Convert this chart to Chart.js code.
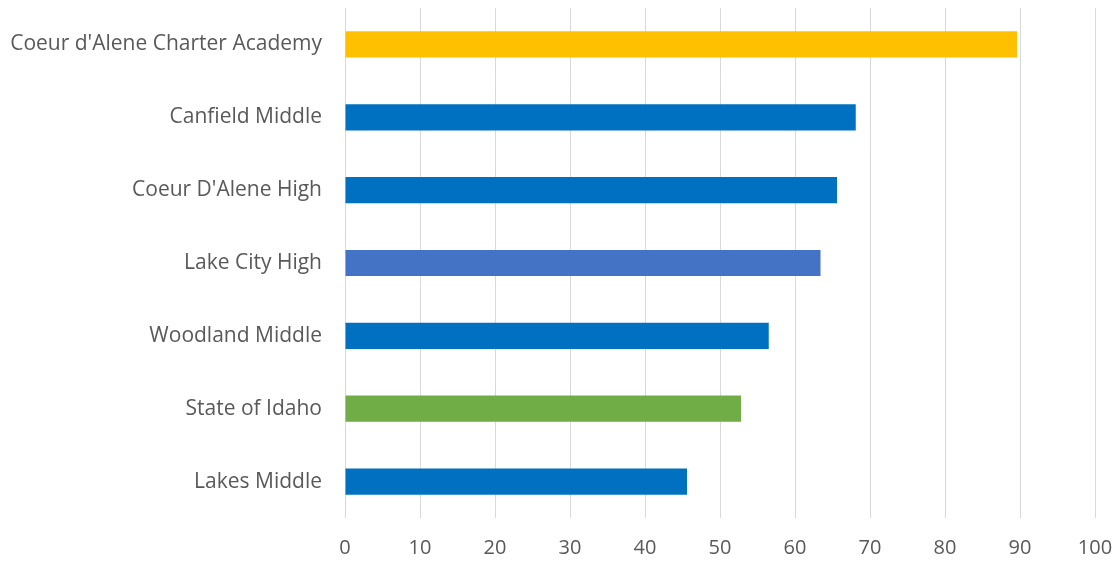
<!DOCTYPE html>
<html>
<head>
<meta charset="utf-8">
<script src="https://cdn.jsdelivr.net/npm/chart.js@4"></script>
<style>
  html, body { margin: 0; padding: 0; background: #ffffff; }
  #wrap { width: 1120px; height: 565px; }
</style>
</head>
<body>
<div id="wrap"><canvas id="c" width="1120" height="565"></canvas></div>
<script>
const categories = [
  "Coeur d'Alene Charter Academy",
  "Canfield Middle",
  "Coeur D'Alene High",
  "Lake City High",
  "Woodland Middle",
  "State of Idaho",
  "Lakes Middle"
];
const values = [89.6, 68.1, 65.6, 63.4, 56.5, 52.8, 45.6];
const barColors = ["#FFC000", "#0070C0", "#0070C0", "#4472C4", "#0070C0", "#70AD47", "#0070C0"];
const xTickMin = 0;
const xTickMax = 100;
const xTickStep = 10;

const fontFamily = "'Open Sans', 'Liberation Sans', sans-serif";

const chart = new Chart(document.getElementById('c'), {
  type: 'bar',
  data: {
    labels: categories,
    datasets: [{
      data: values,
      backgroundColor: barColors,
      borderWidth: 0,
      categoryPercentage: 1,
      barPercentage: 0.36
    }]
  },
  options: {
    indexAxis: 'y',
    responsive: false,
    animation: false,
    layout: { padding: { top: 8, right: 25, left: 0, bottom: 0 } },
    plugins: { legend: { display: false }, tooltip: { enabled: false } },
    scales: {
      x: {
        min: xTickMin,
        max: xTickMax,
        ticks: {
          stepSize: xTickStep,
          color: '#595959',
          font: { family: fontFamily, size: 20 },
          padding: 18
        },
        grid: { color: '#d9d9d9', lineWidth: 1, drawTicks: false },
        border: { display: false },
        afterFit: (s) => { s.height = 47; s.paddingLeft = 0; s.paddingRight = 0; }
      },
      y: {
        ticks: {
          color: '#595959',
          font: { family: fontFamily, size: 21 },
          padding: 23
        },
        grid: { display: false, drawTicks: false },
        border: { display: false },
        afterFit: (s) => { s.width = 345; s.paddingTop = 0; s.paddingBottom = 0; }
      }
    }
  }
});
</script>
</body>
</html>
